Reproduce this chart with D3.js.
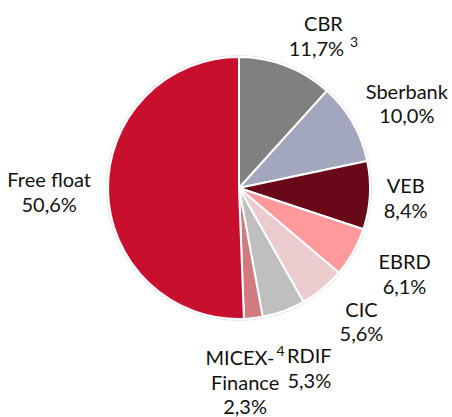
<!DOCTYPE html>
<meta charset="utf-8" />
<style>
  body { margin: 0; background: #fff; }
  text { font-family: Lato, "Open Sans", sans-serif; fill: #111; }
</style>
<svg width="452" height="417"></svg>
<script src="https://d3js.org/d3.v7.min.js"></script>
<script>
    // shareholders, clockwise from 12 o'clock
    var categories = ["CBR", "Sberbank", "VEB", "EBRD", "CIC", "RDIF", "MICEX-|Finance", "Free float"];
    var shares = [11.7, 10.0, 8.4, 6.1, 5.6, 5.3, 2.3, 50.6];
    var colors = ["#808080", "#a3a7be", "#680818", "#ff999b", "#eccbce", "#bfbfbf", "#d17a80", "#c8102e"];
    // footnote marks: [text, line index inside the label]
    var notes = [["3", 1], null, null, null, null, null, ["4", 0], null];

    var svg = d3.select("svg");
    var cx = 239, cy = 188, r = 131;
    var fmt = d3.format(".1f");

    // hand tweaks of label placement, the way the original was laid out
    var nudge = {
        "CBR": [23, 7], "Sberbank": [1, 11], "EBRD": [13, 0], "CIC": [10, -3],
        "RDIF": [12, 19], "MICEX-|Finance": [-14, 10], "Free float": [-3, 0]
    };

    var data = categories.map(function (c, i) {
        return { name: c, value: shares[i], color: colors[i], note: notes[i] };
    });

    var pie = d3.pie().sort(null).value(function (d) { return d.value; });
    var arc = d3.arc().innerRadius(0).outerRadius(r);
    var arcs = pie(data);

    var g = svg.append("g").attr("transform", "translate(" + cx + "," + cy + ")");

    g.append("circle").attr("r", r + 1.5).attr("fill", "none").attr("stroke", "#e6e6e6").attr("stroke-width", 1);

    g.selectAll("path")
        .data(arcs)
        .enter()
        .append("path")
        .attr("d", arc)
        .attr("fill", function (d) { return d.data.color; })
        .attr("stroke", "#fff")
        .attr("stroke-width", 2)
        .attr("stroke-linejoin", "round");

    var gap = 14;
    var lineH = 24.5;

    arcs.forEach(function (a) {
        var lines = a.data.name.split("|");
        lines.push(fmt(a.data.value).replace(".", ",") + "%");

        var t = g.append("text")
            .attr("text-anchor", "middle")
            .style("font-size", "20px");

        lines.forEach(function (s, i) {
            var ts = t.append("tspan").attr("x", 0).attr("y", i * lineH);
            ts.append("tspan").text(s);
            if (a.data.note && a.data.note[1] === i) {
                ts.append("tspan")
                    .attr("dx", i === 0 ? 2 : 6)
                    .attr("dy", -9)
                    .style("font-size", "14px")
                    .text(a.data.note[0]);
            }
        });

        // put the label box just outside the slice, along its mid angle
        var bb = t.node().getBBox();
        var mid = (a.startAngle + a.endAngle) / 2;
        var ux = Math.sin(mid), uy = -Math.cos(mid);
        var hw = bb.width / 2, hh = bb.height / 2;
        var k = Math.min(Math.abs(ux) > 1e-6 ? hw / Math.abs(ux) : Infinity,
                         Math.abs(uy) > 1e-6 ? hh / Math.abs(uy) : Infinity);
        var dist = r + gap + k;
        var n = nudge[a.data.name] || [0, 0];
        var bx = ux * dist + n[0], by = uy * dist + n[1];
        var ox = bb.x + hw, oy = bb.y + hh;
        t.attr("transform", "translate(" + (bx - ox) + "," + (by - oy) + ")");
    });
</script>
